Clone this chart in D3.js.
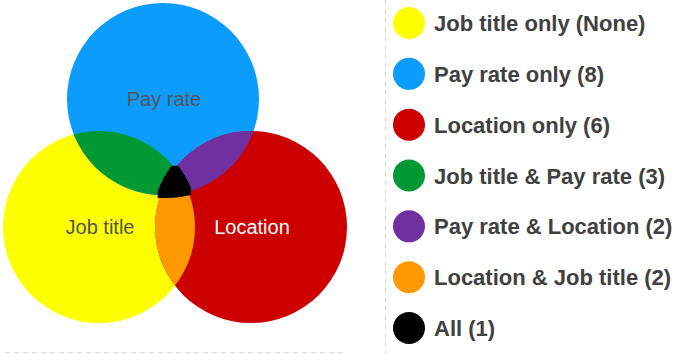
<!DOCTYPE html>
<html>
<head>
<meta charset="utf-8">
<script src="https://cdn.jsdelivr.net/npm/d3@7"></script>
<style>
  body { margin: 0; background: #fff; }
  svg { display: block; font-family: "Liberation Sans", Arial, sans-serif; }
</style>
</head>
<body>
<svg id="chart" width="681" height="354"></svg>
<script>
// sets and region counts
const sets = ['Job title', 'Pay rate', 'Location']
const setColors = ['#ffff00', '#0c9cfd', '#cc0000']
const setLabelColors = ['#555555', '#555555', '#ffffff']

const regionLabels = ['Job title only (None)', 'Pay rate only (8)', 'Location only (6)',
  'Job title & Pay rate (3)', 'Pay rate & Location (2)', 'Location & Job title (2)', 'All (1)']
const regionColors = ['#ffff00', '#0c9cfd', '#cc0000', '#009933', '#7030a0', '#ff9900', '#000000']

const svg = d3.select('#chart')
const width = 681, height = 354

// layout of the three circles (unit coords -> px)
const layout = [
  { x: 0, y: 1 },      // Job title
  { x: 0.4, y: 0.2 },  // Pay rate
  { x: 0.95, y: 1 },   // Location
]
const x = d3.scaleLinear().domain([0, 1]).range([99, 259])
const y = d3.scaleLinear().domain([0, 1]).range([67, 227])
const r = 96

const circles = sets.map((s, i) => ({ name: s, cx: x(layout[i].x), cy: y(layout[i].y), i }))

const defs = svg.append('defs')
circles.forEach(c => {
  defs.append('clipPath').attr('id', 'clip' + c.i)
    .append('circle').attr('cx', c.cx).attr('cy', c.cy).attr('r', r)
})
// nested clip for the triple region
defs.append('clipPath').attr('id', 'clip12')
  .attr('clip-path', 'url(#clip1)')
  .append('circle').attr('cx', circles[2].cx).attr('cy', circles[2].cy).attr('r', r)

// the centre blob is a bit fatter in the original
defs.append('filter').attr('id', 'grow')
  .append('feMorphology').attr('operator', 'dilate').attr('radius', 2.5)

const g = svg.append('g')

g.selectAll('.set')
  .data(circles)
  .enter().append('circle')
  .attr('class', 'set')
  .attr('cx', d => d.cx)
  .attr('cy', d => d.cy)
  .attr('r', r)
  .attr('fill', d => setColors[d.i])

// pairwise overlaps: [drawn circle, clip, colour index]
const pairs = [[0, 1, 3], [1, 2, 4], [2, 0, 5]]
g.selectAll('.pair')
  .data(pairs)
  .enter().append('circle')
  .attr('class', 'pair')
  .attr('cx', d => circles[d[0]].cx)
  .attr('cy', d => circles[d[0]].cy)
  .attr('r', r)
  .attr('clip-path', d => 'url(#clip' + d[1] + ')')
  .attr('fill', d => regionColors[d[2]])

g.append('g')
  .attr('filter', 'url(#grow)')
  .append('circle')
  .attr('cx', circles[0].cx)
  .attr('cy', circles[0].cy)
  .attr('r', r)
  .attr('clip-path', 'url(#clip12)')
  .attr('fill', regionColors[6])

g.selectAll('.set-label')
  .data(circles)
  .enter().append('text')
  .attr('class', 'set-label')
  .attr('x', d => d.cx + 1)
  .attr('y', d => d.cy + 7)
  .attr('text-anchor', 'middle')
  .attr('font-size', 20)
  .attr('fill', d => setLabelColors[d.i])
  .text(d => d.name)

// dashed frame lines
svg.append('line')
  .attr('x1', 385.5).attr('x2', 385.5).attr('y1', 0).attr('y2', height)
  .attr('stroke', '#d9d9d9').attr('stroke-dasharray', '5,4')
svg.append('line')
  .attr('x1', 5).attr('x2', 346).attr('y1', 352.5).attr('y2', 352.5)
  .attr('stroke', '#d9d9d9').attr('stroke-dasharray', '5,4')

// legend
const ly = d3.scalePoint().domain(regionLabels).range([23, 328])
const legend = svg.append('g')
  .selectAll('.item')
  .data(regionLabels)
  .enter().append('g')
  .attr('class', 'item')
  .attr('transform', d => 'translate(409,' + ly(d) + ')')

legend.append('circle')
  .attr('r', 16)
  .attr('fill', (d, i) => regionColors[i])

legend.append('text')
  .attr('x', 25)
  .attr('y', 8)
  .attr('font-size', 22)
  .attr('font-weight', 'bold')
  .attr('fill', '#404040')
  .text(d => d)
</script>
</body>
</html>
